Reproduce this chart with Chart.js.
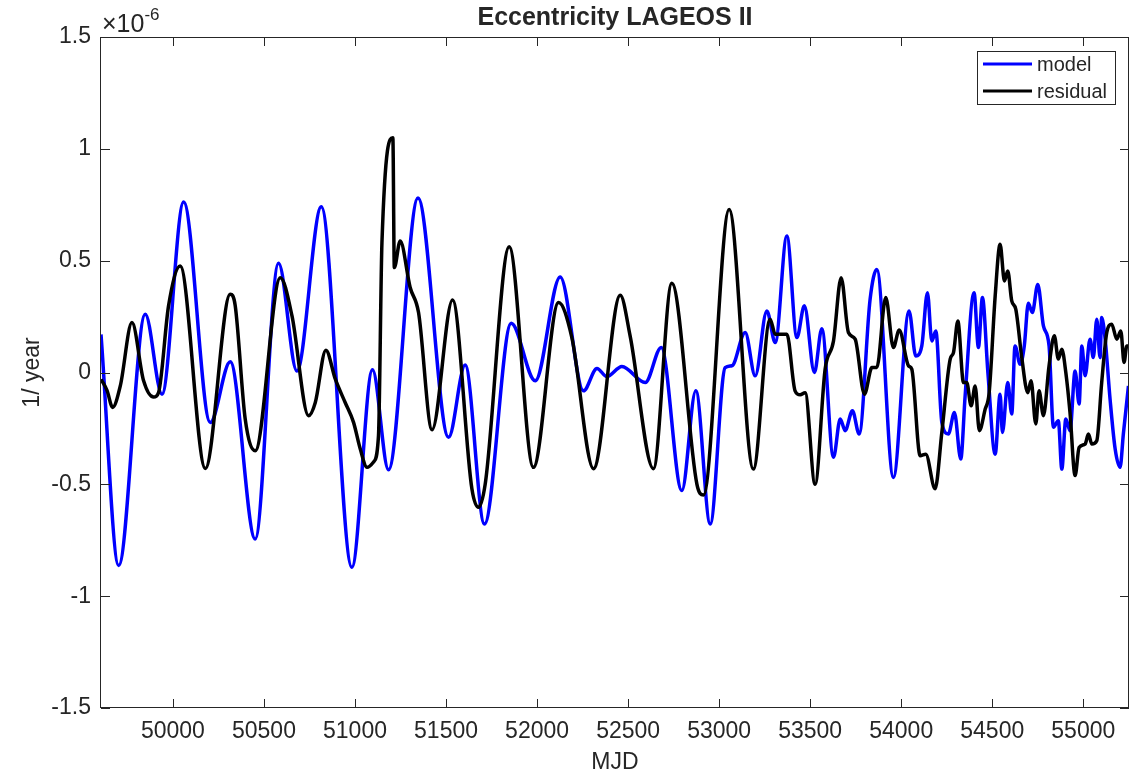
<!DOCTYPE html>
<html>
  <head>
    <meta charset="UTF-8" />
    <title>Eccentricity LAGEOS II</title>
    <script src="https://cdn.jsdelivr.net/npm/chart.js"></script>
    <style>
      body {
        margin: 0;
        background-color: #ffffff;
      }
      .chart-container {
        width: 1140px;
        height: 776px;
      }
    </style>
  </head>
  <body>
    <div class="chart-container">
      <canvas id="myChart" width="1140" height="776"></canvas>
    </div>

    <script>
      // ticks
      const xTicks = [50000, 50500, 51000, 51500, 52000, 52500, 53000, 53500, 54000, 54500, 55000];
      const yTicks = [-1.5, -1, -0.5, 0, 0.5, 1, 1.5];

      // model (blue), values in 1e-6 / year
      const modelMjd = [
        49605, 49702, 49848, 49940, 50059, 50205, 50315, 50452, 50580, 50681,
        50815, 50983, 51096, 51184, 51346, 51514, 51605, 51711, 51858, 51990,
        52127, 52255, 52329, 52383, 52466, 52594, 52682, 52795, 52872, 52951,
        53033, 53070, 53143, 53198, 53262, 53308, 53372, 53427, 53468, 53523,
        53564, 53628, 53665, 53692, 53732, 53769, 53829, 53866, 53957, 54043,
        54080, 54113, 54144, 54168, 54190, 54223, 54259, 54292, 54327, 54351,
        54400, 54424, 54446, 54476, 54516, 54543, 54556, 54585, 54607, 54625,
        54653, 54676, 54698, 54720, 54750, 54781, 54812, 54836, 54863, 54882,
        54904, 54927, 54955, 54977, 54992, 55010, 55037, 55055, 55074, 55092,
        55101, 55120, 55147, 55175, 55202, 55220, 55248
      ];
      const modelVal = [
        0.17, -0.863, 0.26, -0.097, 0.762, -0.223, 0.048, -0.744, 0.488, 0.007,
        0.741, -0.871, 0.012, -0.435, 0.78, -0.29, 0.033, -0.677, 0.22, -0.037,
        0.427, -0.082, 0.018, -0.018, 0.027, -0.045, 0.112, -0.528, -0.082, -0.677,
        0.022, 0.03, 0.179, -0.015, 0.275, 0.134, 0.61, 0.156, 0.298, 0.0,
        0.196, -0.379, -0.208, -0.26, -0.171, -0.275, 0.327, 0.461, -0.469, 0.275,
        0.074, 0.119, 0.357, 0.141, 0.186, -0.223, -0.275, -0.179, -0.387, -0.104,
        0.357, 0.112, 0.335, 0.0, -0.365, -0.097, -0.268, -0.045, -0.186, 0.119,
        0.037, 0.119, 0.31, 0.268, 0.394, 0.208, 0.119, -0.245, -0.216, -0.432,
        -0.208, -0.26, 0.007, -0.141, 0.119, -0.015, 0.149, 0.067, 0.238, 0.067,
        0.246, 0.149, -0.119, -0.342, -0.424, -0.275, -0.06
      ];

      // residual (black)
      const residualMjd = [
        49605, 49638, 49669, 49711, 49775, 49839, 49894, 49921, 49976, 50040,
        50178, 50315, 50342, 50397, 50452, 50590, 50654, 50745, 50782, 50840,
        50892, 50946, 50992, 51029, 51066, 51102, 51129, 51148, 51208, 51216,
        51248, 51303, 51349, 51423, 51536, 51642, 51678, 51715, 51847, 51980,
        52118, 52191, 52310, 52457, 52511, 52639, 52740, 52878, 52914, 53055,
        53188, 53280, 53308, 53372, 53417, 53445, 53472, 53527, 53582, 53628,
        53670, 53710, 53747, 53798, 53839, 53866, 53915, 53957, 53989, 54040,
        54058, 54104, 54135, 54186, 54223, 54269, 54287, 54311, 54342, 54360,
        54384, 54406, 54429, 54461, 54483, 54516, 54543, 54567, 54585, 54607,
        54629, 54662, 54695, 54713, 54739, 54757, 54781, 54812, 54841, 54863,
        54882, 54904, 54927, 54955, 54977, 55010, 55028, 55047, 55074, 55101,
        55129, 55156, 55184, 55206, 55224, 55239, 55251
      ];
      const residualVal = [
        -0.03, -0.08, -0.156, -0.06, 0.223, -0.037, -0.11, -0.09, 0.298, 0.476,
        -0.429, 0.35, 0.3, -0.208, -0.35, 0.424, 0.253, -0.193, -0.134, 0.1,
        -0.03, -0.134, -0.223, -0.342, -0.424, -0.4, -0.283, 0.58, 1.049, 0.469,
        0.588, 0.38, 0.268, -0.256, 0.324, -0.52, -0.603, -0.5, 0.5625, -0.424,
        0.3125, 0.156, -0.43, 0.345, 0.164, -0.43, 0.399, -0.5, -0.548, 0.729,
        -0.432, 0.238, 0.171, 0.171, -0.082, -0.1, -0.09, -0.5, 0.015, 0.141,
        0.424, 0.179, 0.149, -0.097, 0.022, 0.022, 0.335, 0.112, 0.19, 0.03,
        0.015, -0.372, -0.365, -0.52, -0.268, 0.06, 0.089, 0.23, -0.045, -0.045,
        -0.149, -0.06, -0.26, -0.164, -0.09, 0.342, 0.573, 0.409, 0.454, 0.32,
        0.283, 0.067, -0.09, -0.037, -0.23, -0.082, -0.193, 0.03, 0.164, 0.06,
        0.104, 0.0, -0.179, -0.461, -0.335, -0.32, -0.275, -0.32, -0.305, -0.045,
        0.179, 0.216, 0.149, 0.186, 0.045, 0.119, 0.119
      ];

      const ink = "#262626";
      const family = "'Liberation Sans', Arial, Helvetica, sans-serif";

      // matlab-ish box: frame, inward ticks, exponent, legend
      const matlabBox = {
        id: "matlabBox",
        afterDraw(chart) {
          const ctx = chart.ctx;
          const a = chart.chartArea;
          const xs = chart.scales.x;
          const ys = chart.scales.y;
          const tl = 9;
          ctx.save();
          ctx.strokeStyle = ink;
          ctx.lineWidth = 1;
          ctx.beginPath();
          xTicks.forEach(v => {
            const px = Math.round(xs.getPixelForValue(v)) + 0.5;
            ctx.moveTo(px, a.bottom); ctx.lineTo(px, a.bottom - tl);
            ctx.moveTo(px, a.top); ctx.lineTo(px, a.top + tl);
          });
          yTicks.forEach(v => {
            const py = Math.round(ys.getPixelForValue(v)) + 0.5;
            ctx.moveTo(a.left, py); ctx.lineTo(a.left + tl, py);
            ctx.moveTo(a.right, py); ctx.lineTo(a.right - tl, py);
          });
          ctx.stroke();
          ctx.strokeRect(Math.round(a.left) - 0.5, Math.round(a.top) + 0.5,
            Math.round(a.right - a.left), Math.round(a.bottom - a.top) - 1);

          // x10^-6
          ctx.fillStyle = ink;
          ctx.textBaseline = "alphabetic";
          ctx.textAlign = "left";
          ctx.font = "25px " + family;
          ctx.fillText("\u00d710", a.left + 1, 32);
          const w = ctx.measureText("\u00d710").width;
          ctx.font = "17px " + family;
          ctx.fillText("-6", a.left + 1 + w, 20);

          // legend
          const lx = 977.5, ly = 51.5, lw = 138, lh = 53;
          ctx.fillStyle = "#ffffff";
          ctx.fillRect(lx, ly, lw, lh);
          ctx.strokeStyle = ink;
          ctx.lineWidth = 1;
          ctx.strokeRect(lx, ly, lw, lh);
          ctx.font = "20px " + family;
          ctx.textBaseline = "middle";
          chart.data.datasets.forEach((ds, i) => {
            const y = 64 + i * 27;
            ctx.strokeStyle = ds.borderColor;
            ctx.lineWidth = 3;
            ctx.beginPath();
            ctx.moveTo(983, y);
            ctx.lineTo(1032, y);
            ctx.stroke();
            ctx.fillStyle = ink;
            ctx.fillText(ds.label, 1037, y + 1);
          });
          ctx.restore();
        }
      };

      const ctx = document.getElementById("myChart").getContext("2d");
      new Chart(ctx, {
        type: "line",
        data: {
          datasets: [
            {
              label: "model",
              data: modelMjd.map((m, i) => ({ x: m, y: modelVal[i] })),
              borderColor: "#0000ff",
              order: 1
            },
            {
              label: "residual",
              data: residualMjd.map((m, i) => ({ x: m, y: residualVal[i] })),
              borderColor: "#000000",
              order: 0
            }
          ]
        },
        options: {
          responsive: false,
          animation: false,
          layout: { padding: { left: 0, right: 11, top: 0, bottom: 0 } },
          elements: {
            point: { radius: 0 },
            line: { borderWidth: 3.5, cubicInterpolationMode: "monotone", fill: false }
          },
          plugins: {
            legend: { display: false },
            tooltip: { enabled: false },
            title: {
              display: true,
              text: "Eccentricity LAGEOS II",
              fullSize: false,
              color: ink,
              font: { family: family, size: 25, weight: "bold" },
              padding: { top: 3, bottom: 4 }
            }
          },
          scales: {
            x: {
              type: "linear",
              min: 49605,
              max: 55251,
              afterBuildTicks: s => { s.ticks = xTicks.map(v => ({ value: v })); },
              afterFit: s => { s.height = 68; },
              grid: { display: false, drawTicks: false },
              border: { display: false },
              ticks: {
                color: ink,
                font: { family: family, size: 23 },
                padding: 10,
                maxRotation: 0,
                autoSkip: false,
                callback: v => String(v)
              },
              title: {
                display: true,
                text: "MJD",
                color: ink,
                font: { family: family, size: 23 },
                padding: { top: 0, bottom: 0 }
              }
            },
            y: {
              min: -1.5,
              max: 1.5,
              afterBuildTicks: s => { s.ticks = yTicks.map(v => ({ value: v })); },
              afterFit: s => { s.width = 101; },
              grid: { display: false, drawTicks: false },
              border: { display: false },
              ticks: {
                color: ink,
                font: { family: family, size: 23 },
                padding: 10,
                callback: v => String(v)
              },
              title: {
                display: true,
                text: "1/ year",
                color: ink,
                font: { family: family, size: 23 },
                padding: { top: 19, bottom: 0 }
              }
            }
          }
        },
        plugins: [matlabBox]
      });
    </script>
  </body>
</html>
